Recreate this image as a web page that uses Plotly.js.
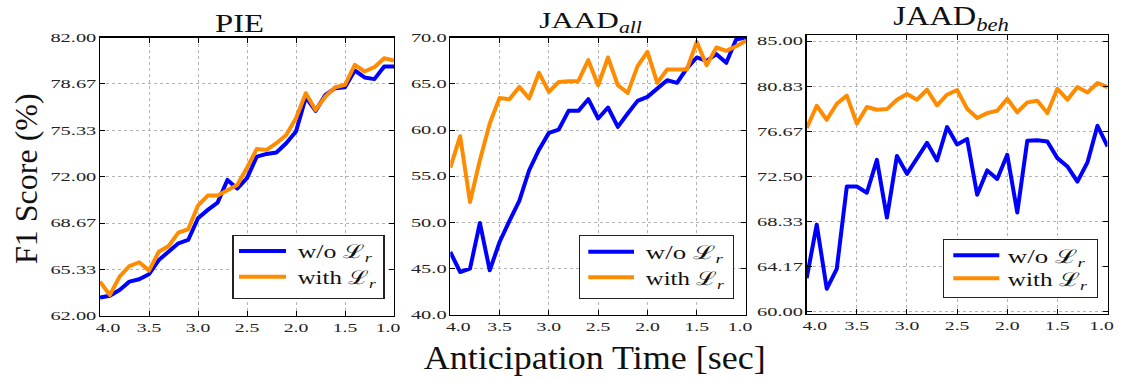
<!DOCTYPE html>
<html>
<head>
<meta charset="utf-8">
<script src="https://cdn.plot.ly/plotly-3.0.1.min.js"></script>
<style>
html,body{margin:0;padding:0;background:#fff;}
#chart{width:1124px;height:382px;}
#chart path.js-line{stroke-linejoin:round;}
</style>
</head>
<body>
<div id="chart"></div>
<script>
// ---------------- data ----------------
const times = [4.0, 3.9, 3.8, 3.7, 3.6, 3.5, 3.4, 3.3, 3.2, 3.1, 3.0, 2.9, 2.8, 2.7, 2.6, 2.5, 2.4, 2.3, 2.2, 2.1, 2.0, 1.9, 1.8, 1.7, 1.6, 1.5, 1.4, 1.3, 1.2, 1.1, 1.0];

const pieWithout = [63.32, 63.46, 63.87, 64.47, 64.64, 65.00, 66.02, 66.62, 67.22, 67.46, 69.02, 69.62, 70.14, 71.77, 71.15, 71.90, 73.45, 73.64, 73.74, 74.41, 75.25, 77.70, 76.73, 77.88, 78.36, 78.43, 79.63, 79.13, 79.01, 79.92, 79.92];
const pieWith    = [64.47, 63.51, 64.83, 65.59, 65.86, 65.26, 66.62, 67.03, 67.99, 68.23, 69.93, 70.65, 70.65, 71.01, 71.41, 72.65, 74.00, 73.93, 74.41, 75.00, 76.20, 78.00, 76.80, 77.76, 78.43, 78.60, 80.04, 79.56, 79.87, 80.51, 80.35];

const jaadAllWithout = [46.81, 44.65, 45.01, 49.95, 44.83, 47.89, 50.17, 52.33, 55.65, 57.88, 59.69, 60.05, 62.07, 62.07, 63.33, 61.24, 62.43, 60.34, 61.78, 63.15, 63.58, 64.48, 65.38, 65.10, 66.65, 67.84, 67.48, 68.20, 67.26, 69.78, 70.00];
const jaadAllWith    = [55.94, 59.33, 52.22, 56.73, 60.70, 63.47, 63.33, 64.66, 63.40, 66.18, 64.12, 65.20, 65.28, 65.31, 67.55, 64.84, 67.84, 64.84, 64.01, 66.90, 68.45, 65.10, 66.54, 66.54, 66.54, 69.53, 67.00, 68.92, 68.56, 69.06, 69.64];

const jaadBehWithout = [63.10, 68.05, 62.12, 63.97, 71.58, 71.58, 71.00, 74.04, 68.70, 74.40, 72.74, 74.25, 75.61, 73.98, 77.07, 75.46, 75.96, 70.81, 73.06, 72.27, 74.51, 69.18, 75.81, 75.84, 75.74, 74.20, 73.43, 72.02, 73.80, 77.19, 75.28];
const jaadBehWith    = [76.98, 79.04, 77.74, 79.22, 79.97, 77.38, 78.92, 78.67, 78.73, 79.60, 80.12, 79.60, 80.52, 79.07, 80.06, 80.49, 78.76, 77.90, 78.36, 78.58, 79.69, 78.42, 79.35, 79.50, 78.36, 80.61, 79.60, 80.77, 80.27, 81.14, 80.77];

const xTickVals = [4.0, 3.5, 3.0, 2.5, 2.0, 1.5, 1.0];
const xTickText = ["4.0", "3.5", "3.0", "2.5", "2.0", "1.5", "1.0"];
const pieTickVals = [62.00, 65.333, 68.667, 72.00, 75.333, 78.667, 82.00];
const pieTickText = ["62.00", "65.33", "68.67", "72.00", "75.33", "78.67", "82.00"];
const allTickVals = [40, 45, 50, 55, 60, 65, 70];
const allTickText = ["40.0", "45.0", "50.0", "55.0", "60.0", "65.0", "70.0"];
const behTickVals = [60.00, 64.167, 68.333, 72.50, 76.667, 80.833, 85.00];
const behTickText = ["60.00", "64.17", "68.33", "72.50", "76.67", "80.83", "85.00"];

const panelTitles = ["PIE", "JAAD<sub><i>all</i></sub>", "JAAD<sub><i>beh</i></sub>"];
const seriesNames = ["w/o \u2112<sub><i>r</i></sub>", "with \u2112<sub><i>r</i></sub>"];
const xTitle = "Anticipation Time [sec]";
const yTitle = "F1 Score (%)";

// ---------------- layout helpers ----------------
const W = 1124, H = 382;
const BLUE = '#0000ff', ORANGE = '#ff8c00';
const SERIF = 'Liberation Serif, Times New Roman, serif';
const px = p => p / W;
const py = p => 1 - p / H;

function xAxis(l, r, anchor) {
  return {
    domain: [px(l), px(r)], anchor: anchor, range: [4.0, 1.0],
    tickmode: 'array', tickvals: xTickVals, ticktext: xTickText,
    ticks: 'inside', ticklen: 5, tickwidth: 1, tickcolor: '#000',
    showline: true, mirror: 'ticks', linecolor: '#000', linewidth: 1.3,
    showgrid: true, gridcolor: '#b4b4b4', gridwidth: 1, griddash: '3px,3px',
    zeroline: false, fixedrange: true,
    tickfont: {family: SERIF, size: 12, color: '#222'}
  };
}
function yAxis(t, b, anchor, range, vals, text) {
  return {
    domain: [py(b), py(t)], anchor: anchor, range: range,
    tickmode: 'array', tickvals: vals, ticktext: text,
    ticks: 'inside', ticklen: 5, tickwidth: 1, tickcolor: '#000',
    showline: true, mirror: 'ticks', linecolor: '#000', linewidth: 1.3,
    showgrid: true, gridcolor: '#b4b4b4', gridwidth: 1, griddash: '3px,3px',
    zeroline: false, fixedrange: true,
    tickfont: {family: SERIF, size: 12, color: '#222'}
  };
}
function legendBox(rightPx, bottomPx) {
  return {
    x: px(rightPx), xanchor: 'right', y: py(bottomPx), yanchor: 'bottom',
    bgcolor: '#fff', bordercolor: '#222', borderwidth: 1.2,
    font: {family: SERIF, size: 19, color: '#111'},
    itemwidth: 50, tracegroupgap: 0
  };
}

const panels = [
  {x: 'x',  y: 'y',  leg: 'legend',  a: pieWithout,     b: pieWith},
  {x: 'x2', y: 'y2', leg: 'legend2', a: jaadAllWithout, b: jaadAllWith},
  {x: 'x3', y: 'y3', leg: 'legend3', a: jaadBehWithout, b: jaadBehWith}
];
const data = [];
panels.forEach(p => {
  data.push({x: times, y: p.a, type: 'scatter', mode: 'lines', name: seriesNames[0],
    xaxis: p.x, yaxis: p.y, legend: p.leg, line: {color: BLUE, width: 4}});
  data.push({x: times, y: p.b, type: 'scatter', mode: 'lines', name: seriesNames[1],
    xaxis: p.x, yaxis: p.y, legend: p.leg, line: {color: ORANGE, width: 4}});
});

const layout = {
  width: W, height: H,
  margin: {l: 0, r: 0, t: 0, b: 0},
  paper_bgcolor: '#fff', plot_bgcolor: '#fff',
  showlegend: true,
  xaxis:  xAxis(100, 394, 'y'),
  yaxis:  yAxis(37.5, 316, 'x', [62, 82], pieTickVals, pieTickText),
  xaxis2: xAxis(450.3, 746, 'y2'),
  yaxis2: yAxis(37.5, 315, 'x2', [40, 70], allTickVals, allTickText),
  xaxis3: xAxis(806.7, 1107.5, 'y3'),
  yaxis3: yAxis(35.3, 314, 'x3', [59.79, 85.55], behTickVals, behTickText),
  legend:  legendBox(384, 298.7),
  legend2: legendBox(733.3, 298.3),
  legend3: legendBox(1097.3, 297.3),
  annotations: [
    {text: panelTitles[0], x: px(239), y: py(24), xref: 'paper', yref: 'paper', xanchor: 'center', yanchor: 'middle', showarrow: false, font: {family: SERIF, size: 26, color: '#111'}},
    {text: panelTitles[1], x: px(590), y: py(22), xref: 'paper', yref: 'paper', xanchor: 'center', yanchor: 'middle', showarrow: false, font: {family: SERIF, size: 24, color: '#111'}},
    {text: panelTitles[2], x: px(951), y: py(18), xref: 'paper', yref: 'paper', xanchor: 'center', yanchor: 'middle', showarrow: false, font: {family: SERIF, size: 27, color: '#111'}},
    {text: yTitle, x: px(26), y: py(179), xref: 'paper', yref: 'paper', xanchor: 'center', yanchor: 'middle', textangle: -90, showarrow: false, font: {family: SERIF, size: 32, color: '#111'}},
    {text: xTitle, x: px(594), y: py(358), xref: 'paper', yref: 'paper', xanchor: 'center', yanchor: 'middle', showarrow: false, font: {family: SERIF, size: 33, color: '#111'}}
  ]
};

// idempotent horizontal stretching of real SVG text
function stretch(el, f) {
  el.removeAttribute('textLength');
  el.removeAttribute('lengthAdjust');
  const w = el.getComputedTextLength();
  if (w > 0) {
    el.setAttribute('textLength', (w * f).toFixed(1));
    el.setAttribute('lengthAdjust', 'spacingAndGlyphs');
  }
}
function stretchTo(el, target) {
  el.setAttribute('textLength', target);
  el.setAttribute('lengthAdjust', 'spacingAndGlyphs');
}

// legend boxes as in the reference (pixel geometry)
const legendGeom = [
  {cls: 'legend',  left: 233,   top: 235.3, w: 151, h: 63.4, line: [6, 53],   ys: [15.7, 41.4], tx: 64.7, tw: [74, 78]},
  {cls: 'legend2', left: 579.3, top: 235.7, w: 154, h: 62.6, line: [9, 54.7], ys: [16, 41.6],   tx: 66.5, tw: [77, 78]},
  {cls: 'legend3', left: 943.3, top: 239.3, w: 154, h: 58,   line: [10, 56],  ys: [16, 39],     tx: 64.5, tw: [77, 79]}
];

function post(gd) {
  gd.querySelectorAll('g.xtick > text, g.x2tick > text, g.x3tick > text').forEach(t => {
    stretch(t, 1.64);
    if (t.dataset.x0 === undefined) t.dataset.x0 = parseFloat(t.getAttribute('x')) || 0;
    const x0 = parseFloat(t.dataset.x0);
    if (t.textContent === '4.0') t.setAttribute('x', x0 + 8);
    if (t.textContent === '1.0') t.setAttribute('x', x0 - 6);
  });
  gd.querySelectorAll('g.ytick > text, g.y2tick > text, g.y3tick > text').forEach(t => stretch(t, 1.7));
  const ann = gd.querySelectorAll('g.annotation-text-g text');
  if (ann.length >= 5) {
    stretch(ann[0], 1.26);
    stretch(ann[1], 1.3);
    stretch(ann[2], 1.2);
    stretchTo(ann[4], 342);
  }
  legendGeom.forEach(G => {
    const g = gd.querySelector('g.' + G.cls);
    if (!g) return;
    g.setAttribute('transform', `translate(${G.left},${G.top})`);
    const bg = g.querySelector('rect.bg');
    if (bg) {
      bg.setAttribute('x', 0); bg.setAttribute('y', 0);
      bg.setAttribute('width', G.w); bg.setAttribute('height', G.h);
    }
    const sb = g.querySelector('g.scrollbox');
    if (sb) { sb.removeAttribute('clip-path'); sb.setAttribute('transform', 'translate(0,0)'); }
    const groups = g.querySelector('g.groups');
    if (groups) groups.setAttribute('transform', 'translate(0,0)');
    g.querySelectorAll('g.traces').forEach((tr, i) => {
      tr.setAttribute('transform', `translate(0,${G.ys[i]})`);
      tr.querySelectorAll('path.js-line').forEach(p => p.setAttribute('d', `M${G.line[0]},0h${G.line[1] - G.line[0]}`));
      tr.querySelectorAll('text').forEach(t => {
        t.setAttribute('x', G.tx);
        stretchTo(t, G.tw[i]);
      });
    });
  });
}

Plotly.newPlot('chart', data, layout, {staticPlot: true, displayModeBar: false}).then(gd => {
  post(gd);
  gd.on('plotly_afterplot', () => post(gd));
  setTimeout(() => post(gd), 150);
  setTimeout(() => post(gd), 600);
});
</script>
</body>
</html>
